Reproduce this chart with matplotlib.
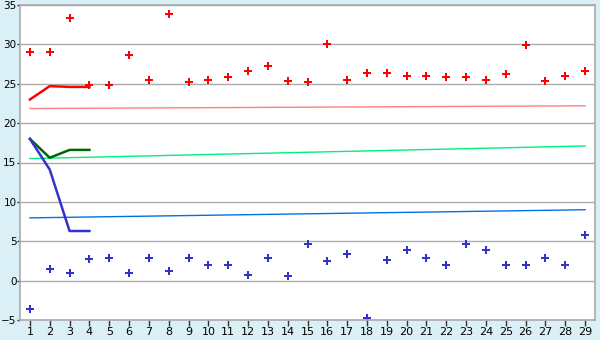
import matplotlib
matplotlib.use("Agg")
import matplotlib.pyplot as plt

x_days = list(range(1, 30))
red_points = [29.0, 29.0, 33.4, 24.9, 24.8, 28.7, 25.5, 33.8, 25.2, 25.5,
              25.8, 26.6, 27.2, 25.4, 25.2, 30.0, 25.5, 26.4, 26.4, 26.0,
              26.0, 25.8, 25.8, 25.5, 26.2, 29.9, 25.4, 26.0, 26.6]
blue_points = [-3.6, 1.5, 1.0, 2.8, 2.9, 1.0, 2.9, 1.2, 2.9, 2.0,
               2.0, 0.7, 2.9, 0.6, 4.7, 2.5, 3.4, -4.7, 2.6, 3.9,
               2.9, 2.0, 4.7, 3.9, 2.0, 2.0, 2.9, 2.0, 5.8]
short_x = [1, 2, 3, 4]
red_line = [23.0, 24.7, 24.6, 24.6]
green_line = [18.0, 15.6, 16.6, 16.6]
blue_line = [18.0, 14.1, 6.3, 6.3]
trend_x = [1, 29]
pink_trend = [21.85, 22.2]
green_trend = [15.5, 17.1]
blue_trend = [7.97, 9.0]
y_ticks = [-5, 0, 5, 10, 15, 20, 25, 30, 35]

bg = "#daeff6"
fig = plt.figure(figsize=(6, 3.4), dpi=100, facecolor=bg)
ax = fig.add_axes([20/600, 20/340, 575/600, 315/340])
ax.set_facecolor("white")

ax.plot(trend_x, pink_trend, color="#ff8080", lw=1.0)
ax.plot(trend_x, green_trend, color="#00f080", lw=1.0)
ax.plot(trend_x, blue_trend, color="#0070e8", lw=1.0)
ax.plot(short_x, red_line, color="#ff0000", lw=1.8)
ax.plot(short_x, green_line, color="#006600", lw=1.8)
ax.plot(short_x, blue_line, color="#3333cc", lw=1.8)
ax.plot(x_days, red_points, ls="none", marker="P", ms=6, color="#ff0000", mew=0)
ax.plot(x_days, blue_points, ls="none", marker="P", ms=6, color="#3333cc", mew=0)

ax.set_xlim(0.5, 29.5)
ax.set_ylim(-5, 35)
ax.set_yticks(y_ticks)
ax.set_xticks(x_days)
ax.grid(axis="y", color="#aaaaaa", lw=1.0)
ax.set_axisbelow(True)
for s in ax.spines.values():
    s.set_color("#aaaaaa")
    s.set_linewidth(1.2)
ax.tick_params(axis="x", colors="#333333", labelcolor="black", labelsize=8,
               length=4, width=1, pad=1)
ax.tick_params(axis="y", colors="#333333", labelcolor="black", labelsize=7.5,
               length=2, width=1, pad=0.5)
for lbl in ax.get_yticklabels():
    lbl.set_verticalalignment("center_baseline")

fig.savefig("out.png", dpi=100, facecolor=bg)
